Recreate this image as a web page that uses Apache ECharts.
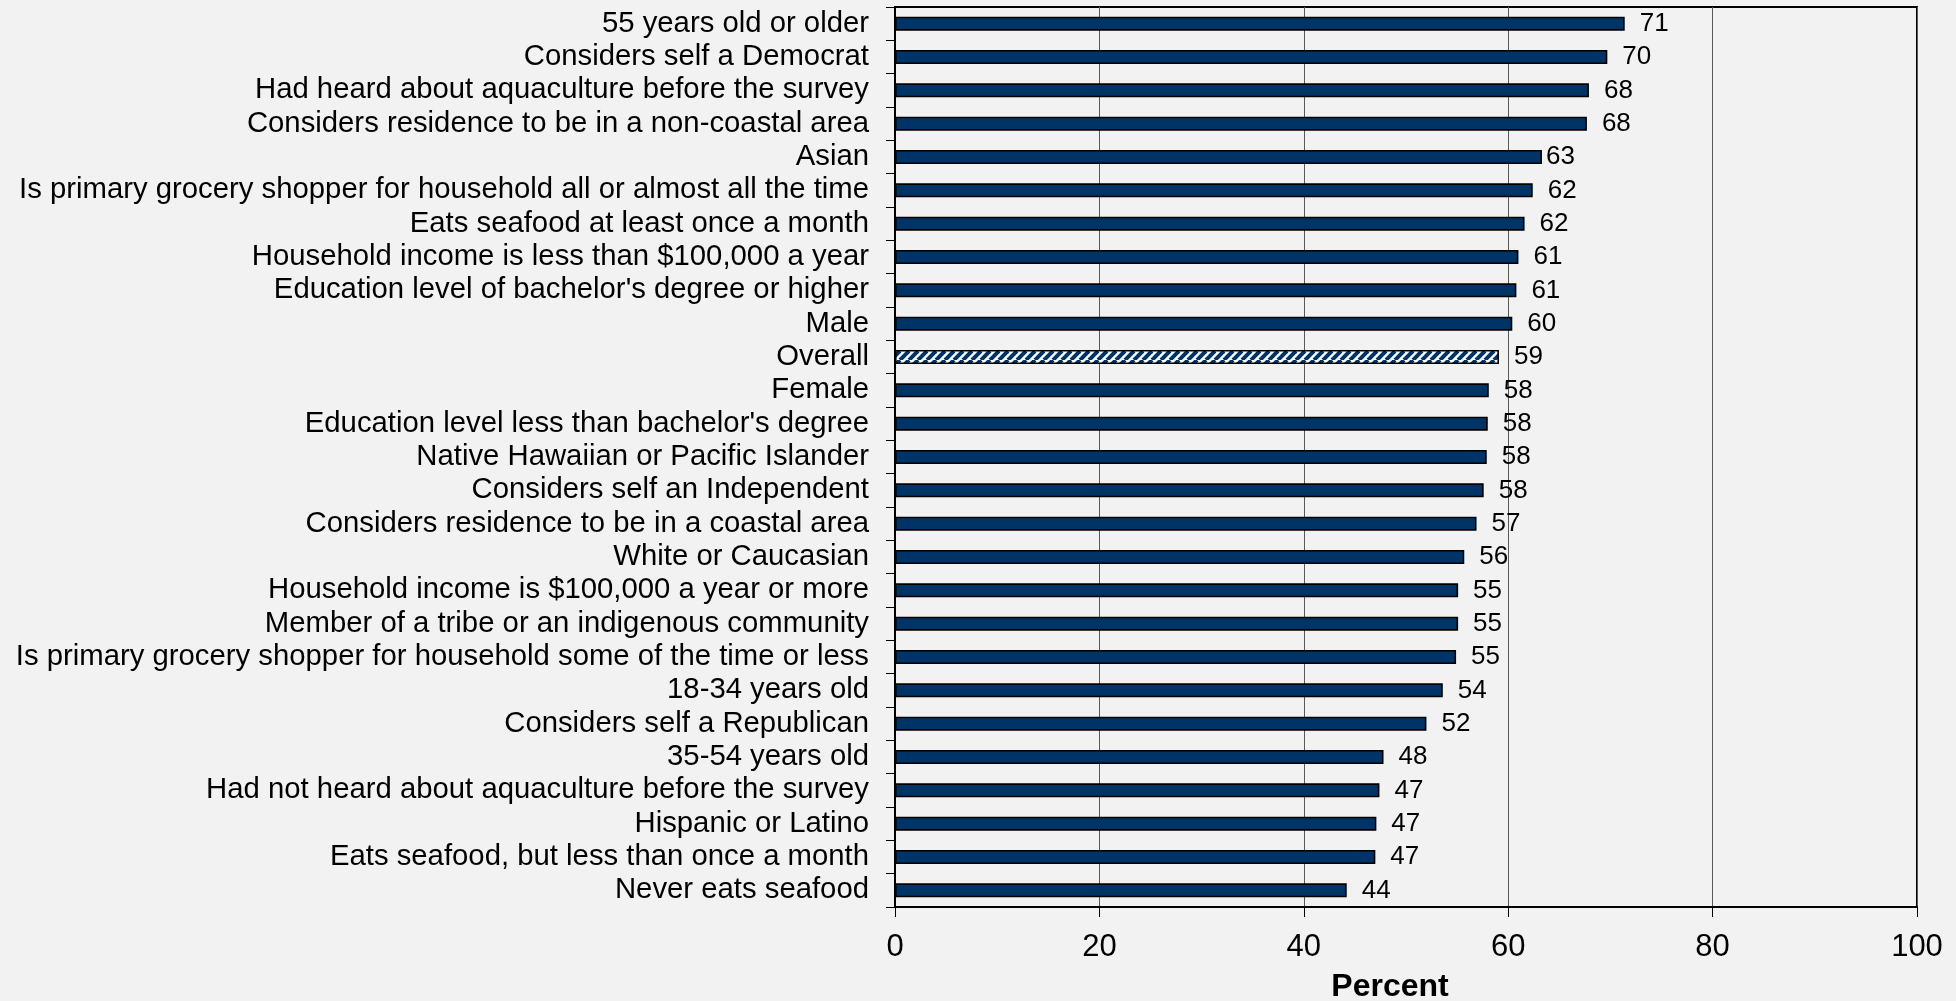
<!DOCTYPE html>
<html>
<head>
<meta charset="utf-8">
<script src="https://cdn.jsdelivr.net/npm/echarts@6/dist/echarts.min.js"></script>
<style>
html,body{margin:0;padding:0;background:#f2f2f2;}
#chart{width:1956px;height:1001px;}
</style>
</head>
<body>
<div id="chart"></div>
<script>
const categories = [
  "55 years old or older",
  "Considers self a Democrat",
  "Had heard about aquaculture before the survey",
  "Considers residence to be in a non-coastal area",
  "Asian",
  "Is primary grocery shopper for household all or almost all the time",
  "Eats seafood at least once a month",
  "Household income is less than $100,000 a year",
  "Education level of bachelor's degree or higher",
  "Male",
  "Overall",
  "Female",
  "Education level less than bachelor's degree",
  "Native Hawaiian or Pacific Islander",
  "Considers self an Independent",
  "Considers residence to be in a coastal area",
  "White or Caucasian",
  "Household income is $100,000 a year or more",
  "Member of a tribe or an indigenous community",
  "Is primary grocery shopper for household some of the time or less",
  "18-34 years old",
  "Considers self a Republican",
  "35-54 years old",
  "Had not heard about aquaculture before the survey",
  "Hispanic or Latino",
  "Eats seafood, but less than once a month",
  "Never eats seafood"
];
const values = [71.4, 69.7, 67.9, 67.7, 63.3, 62.4, 61.6, 61.0, 60.8, 60.4, 59.1, 58.1, 58.0, 57.9, 57.6, 56.9, 55.7, 55.1, 55.1, 54.9, 53.6, 52.0, 47.8, 47.4, 47.1, 47.0, 44.2];
const labels = [71, 70, 68, 68, 63, 62, 62, 61, 61, 60, 59, 58, 58, 58, 58, 57, 56, 55, 55, 55, 54, 52, 48, 47, 47, 47, 44];
const xTicks = [0, 20, 40, 60, 80, 100];
const highlight = "Overall";

const NAVY = '#003366';
const FONT = '"Liberation Sans", Arial, sans-serif';

// hatch pattern for the Overall bar
const pc = document.createElement('canvas');
pc.width = 9; pc.height = 9;
const g = pc.getContext('2d');
g.fillStyle = '#ffffff'; g.fillRect(0, 0, 9, 9);
g.strokeStyle = NAVY; g.lineWidth = 4;
for (let k = -1; k <= 1; k++) {
  g.beginPath(); g.moveTo(k * 9, 9); g.lineTo(k * 9 + 9, 0); g.stroke();
}

const data = values.map((v, i) => {
  const item = { value: v };
  if (categories[i] === highlight) item.itemStyle = { color: { image: pc, repeat: 'repeat' } };
  if (categories[i] === 'Asian') item.label = { distance: 4 };
  return item;
});

const chart = echarts.init(document.getElementById('chart'), null, { renderer: 'canvas' });
chart.setOption({
  backgroundColor: '#f2f2f2',
  animation: false,
  textStyle: { fontFamily: FONT },
  grid: { left: 895, right: 39, top: 7, bottom: 94, show: true, borderColor: '#000', borderWidth: 2, backgroundColor: 'transparent', containLabel: false, outerBoundsMode: 'none' },
  xAxis: {
    type: 'value', min: xTicks[0], max: xTicks[xTicks.length - 1], interval: 20,
    name: 'Percent', nameLocation: 'middle', nameGap: 64,
    nameTextStyle: { fontFamily: FONT, fontSize: 32, fontWeight: 'bold', color: '#000', padding: [0, 32, 0, 0] },
    axisLine: { show: true, lineStyle: { color: '#000', width: 2 } },
    axisTick: { show: true, length: 10, lineStyle: { color: '#000', width: 1 } },
    axisLabel: { fontFamily: FONT, fontSize: 31, color: '#000', margin: 25 },
    splitLine: { show: true, lineStyle: { color: '#595959', width: 1 } }
  },
  yAxis: {
    type: 'category', data: categories, inverse: true,
    axisLine: { show: true, lineStyle: { color: '#000', width: 2 } },
    axisTick: { show: true, length: 9, lineStyle: { color: '#000', width: 1 } },
    axisLabel: { fontFamily: FONT, fontSize: 29.3, color: '#000', margin: 26, interval: 0, padding: [5, 0, 0, 0] },
    splitLine: { show: false }
  },
  series: [{
    type: 'bar', data: data, barWidth: 14,
    itemStyle: { color: NAVY, borderColor: '#000', borderWidth: 1.6 },
    label: {
      show: true, position: 'right', distance: 15,
      fontFamily: FONT, fontSize: 26, color: '#000', padding: [3, 0, 0, 0],
      formatter: p => String(labels[p.dataIndex])
    }
  }]
});
</script>
</body>
</html>
